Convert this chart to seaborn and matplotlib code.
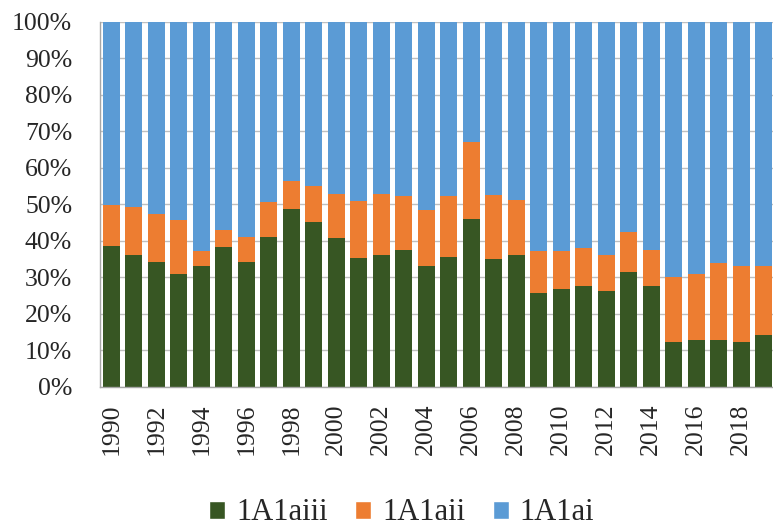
import numpy as np
import pandas as pd
import matplotlib
matplotlib.use("Agg")
import matplotlib.pyplot as plt
import seaborn as sns
from matplotlib.patches import Patch

years = list(range(1990, 2020))
# share of 1A1aiii (green, bottom), in %
s_aiii = [38.5, 36.0, 34.1, 31.0, 33.2, 38.3, 34.2, 41.0, 48.7, 45.1,
          40.7, 35.2, 36.1, 37.4, 33.2, 35.5, 46.0, 35.0, 36.0, 25.6,
          26.8, 27.5, 26.2, 31.4, 27.6, 12.3, 12.8, 12.8, 12.2, 14.3]
# share of 1A1aii (orange, middle), in %
s_aii = [11.2, 13.3, 13.3, 14.7, 4.1, 4.8, 6.8, 9.7, 7.6, 9.9,
         12.1, 15.8, 16.7, 14.9, 15.3, 16.8, 21.1, 17.6, 15.2, 11.5,
         10.3, 10.6, 10.0, 11.0, 9.9, 17.8, 18.2, 21.0, 21.0, 18.7]
# share of 1A1ai (blue, top), in %
s_ai = [100 - a - b for a, b in zip(s_aiii, s_aii)]

series_names = ["1A1aiii", "1A1aii", "1A1ai"]
colors = ["#375623", "#ED7D31", "#5B9BD5"]

df = pd.DataFrame({"year": [str(y) for y in years],
                   "aiii": s_aiii, "aii": s_aii, "ai": s_ai})
df["top_aii"] = df["aiii"] + df["aii"]
df["top_ai"] = df["top_aii"] + df["ai"]

sns.set_style("white")
plt.rcParams["font.family"] = ["Liberation Serif", "DejaVu Serif"]

fig = plt.figure(figsize=(7.73, 5.26), dpi=100)
ax = fig.add_axes([100 / 773, (526 - 386.7) / 526, 675 / 773, 364.7 / 526])

for col, c in [("top_ai", colors[2]), ("top_aii", colors[1]), ("aiii", colors[0])]:
    sns.barplot(data=df, x="year", y=col, color=c, width=0.76,
                saturation=1, ax=ax, zorder=2, linewidth=0)

ax.set_xlim(-0.5, 29.5)
ax.set_ylim(0, 100)
ax.set_yticks(np.arange(0, 101, 10))
ax.set_yticklabels([f"{v}%" for v in range(0, 101, 10)], fontsize=18.5)
ax.yaxis.grid(True, color="#BFBFBF", linewidth=1, zorder=0)
ax.set_axisbelow(True)

ax.set_xticks(np.arange(0, 30, 2))
ax.set_xticklabels([str(y) for y in years[::2]], rotation=90, fontsize=18.5)
ax.set_xticks(np.arange(-0.5, 30, 1), minor=True)
ax.tick_params(axis="x", which="major", length=0, pad=12)
ax.tick_params(axis="x", which="minor", length=5.5, color="#A6A6A6", width=1)
ax.tick_params(axis="y", which="major", length=6.5, color="#A6A6A6", width=1, pad=13.5)
ax.set_xlabel("")
ax.set_ylabel("")

for s in ["top", "right"]:
    ax.spines[s].set_visible(False)
for s in ["left", "bottom"]:
    ax.spines[s].set_color("#A6A6A6")
    ax.spines[s].set_linewidth(1)

handles = [Patch(facecolor=colors[i], label=series_names[i]) for i in range(3)]
fig.legend(handles=handles, loc="lower center", bbox_to_anchor=(0.52, -0.055),
           ncol=3, frameon=False, fontsize=22, handlelength=0.52, handleheight=0.52,
           handletextpad=0.36, columnspacing=0.9)

fig.savefig("out.png", dpi=100)
